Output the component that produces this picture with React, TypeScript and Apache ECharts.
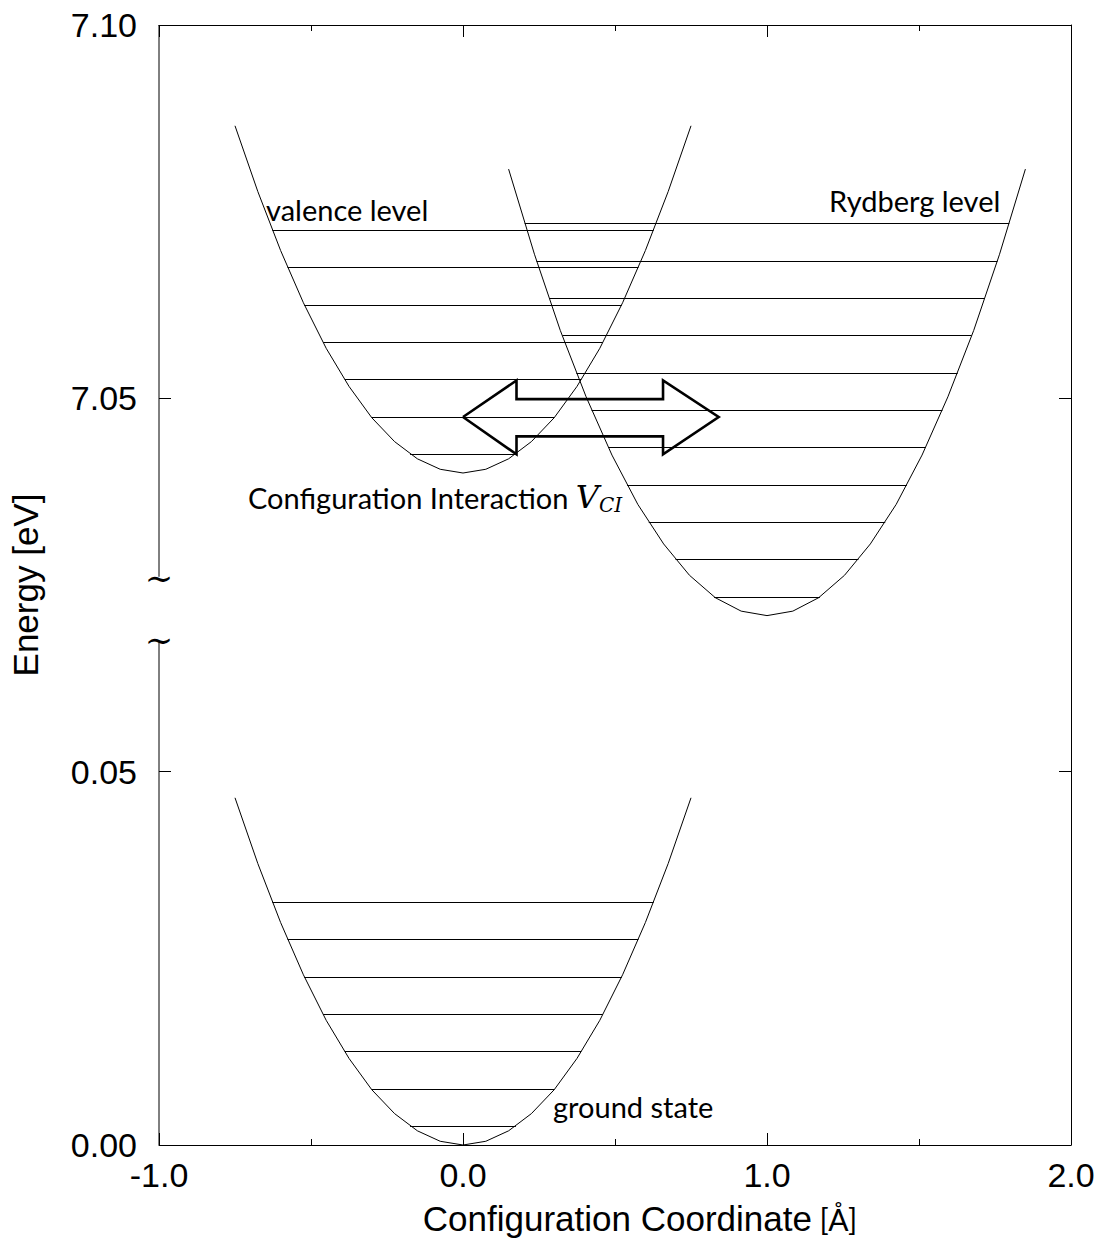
import React, { useEffect, useRef } from "react";
import * as echarts from "echarts";

// ---- tick labels ----
const xTickLabels = ["-1.0", "0.0", "1.0", "2.0"];
const yTickLabels = ["0.00", "0.05", "7.05", "7.10"];

// ---- potential curves (value axis: 0.10 shown as 7.05, 0.15 as 7.10) ----
const groundX = [-0.75, -0.675, -0.6, -0.525, -0.45, -0.375, -0.3, -0.225, -0.15, -0.075, 0, 0.075, 0.15, 0.225, 0.3, 0.375, 0.45, 0.525, 0.6, 0.675, 0.75];
const groundE = [0.0465, 0.0377, 0.0298, 0.0228, 0.0167, 0.0116, 0.0074, 0.0042, 0.0019, 0.0005, 0, 0.0005, 0.0019, 0.0042, 0.0074, 0.0116, 0.0167, 0.0228, 0.0298, 0.0377, 0.0465];

const valenceX = [-0.75, -0.675, -0.6, -0.525, -0.45, -0.375, -0.3, -0.225, -0.15, -0.075, 0, 0.075, 0.15, 0.225, 0.3, 0.375, 0.45, 0.525, 0.6, 0.675, 0.75];
const valenceE = [0.1365, 0.1277, 0.1198, 0.1128, 0.1067, 0.1016, 0.0974, 0.0942, 0.0919, 0.0905, 0.09, 0.0905, 0.0919, 0.0942, 0.0974, 0.1016, 0.1067, 0.1128, 0.1198, 0.1277, 0.1365];

const rydbergX = [0.15, 0.235, 0.32, 0.405, 0.49, 0.575, 0.66, 0.745, 0.83, 0.915, 1.0, 1.085, 1.17, 1.255, 1.34, 1.425, 1.51, 1.595, 1.68, 1.765, 1.85];
const rydbergE = [0.1307, 0.1193, 0.1091, 0.1002, 0.0924, 0.0858, 0.0805, 0.0763, 0.0733, 0.0715, 0.0709, 0.0715, 0.0733, 0.0763, 0.0805, 0.0858, 0.0924, 0.1002, 0.1091, 0.1193, 0.1307];

// ---- vibrational levels ----
const groundLevelE = [0.0025, 0.0075, 0.0125, 0.0175, 0.0225, 0.0275, 0.0325];
const groundLevelL = [-0.174, -0.301, -0.389, -0.46, -0.522, -0.577, -0.627];
const groundLevelR = [0.174, 0.301, 0.389, 0.46, 0.522, 0.577, 0.627];

const valenceLevelE = [0.0925, 0.0975, 0.1025, 0.1075, 0.1125, 0.1175, 0.1225];
const valenceLevelL = [-0.174, -0.301, -0.389, -0.46, -0.522, -0.577, -0.627];
const valenceLevelR = [0.174, 0.301, 0.389, 0.46, 0.522, 0.577, 0.627];

const rydbergLevelE = [0.0734, 0.0784, 0.0834, 0.0884, 0.0934, 0.0984, 0.1034, 0.1084, 0.1134, 0.1184, 0.1234];
const rydbergLevelL = [0.826, 0.699, 0.611, 0.54, 0.478, 0.423, 0.373, 0.327, 0.283, 0.242, 0.203];
const rydbergLevelR = [1.174, 1.301, 1.389, 1.46, 1.522, 1.577, 1.627, 1.673, 1.717, 1.758, 1.797];

// ---- double arrow (configuration interaction) ----
const arrowX = [0, 0.176, 0.176, 0.658, 0.658, 0.841, 0.658, 0.658, 0.176, 0.176, 0];
const arrowE = [0.0975, 0.1024, 0.0999, 0.0999, 0.1024, 0.0975, 0.0925, 0.0949, 0.0949, 0.0925, 0.0975];

// ---- broken left axis segments ----
const axisLowE = [0, 0.0675];
const axisHighE = [0.0761, 0.15];

const zip = (xs: number[], ys: number[]) => xs.map((x, i) => [x, ys[i]]);
const levels = (L: number[], R: number[], E: number[]) =>
  E.map((e, i) => ({ coords: [[L[i], e], [R[i], e]] }));

const thin = { color: "#000", width: 1, opacity: 1 };
const TICK_FONT = "Liberation Sans";
const ANN_FONT = "Lato";
const ANN_SIZE = 29;

export default function App() {
  const ref = useRef<HTMLDivElement>(null);
  useEffect(() => {
    document.body.style.margin = "0";
    if (!ref.current) return;
    const chart = echarts.init(ref.current, undefined, { renderer: "svg" });

    const xBase = {
      type: "value" as const,
      min: -1,
      max: 2,
      interval: 1,
      axisLine: { show: true, onZero: false, lineStyle: { color: "#000", width: 1 } },
      axisTick: { show: true, inside: true, length: 12, lineStyle: { color: "#000", width: 1 } },
      minorTick: { show: true, splitNumber: 2, length: 6, lineStyle: { color: "#000", width: 1 } },
      splitLine: { show: false },
      minorSplitLine: { show: false },
    };
    const yBase = {
      type: "value" as const,
      min: 0,
      max: 0.15,
      interval: 0.05,
      axisTick: { show: true, inside: true, length: 12, lineStyle: { color: "#000", width: 1 } },
      splitLine: { show: false },
    };

    chart.setOption({
      animation: false,
      backgroundColor: "#fff",
      grid: { left: 158, right: 28, top: 25, bottom: 93, containLabel: false },
      xAxis: [
        {
          ...xBase,
          position: "bottom",
          axisLabel: {
            formatter: (v: number) => xTickLabels[Math.round(v + 1)] ?? "",
            fontFamily: TICK_FONT,
            fontSize: 34,
            color: "#000",
            margin: 13,
          },
          name: "{a|Configuration Coordinate}{b| [Å]}",
          nameLocation: "middle",
          nameGap: 56,
          nameTextStyle: {
            padding: [0, 0, 0, 50],
            rich: {
              a: { fontFamily: TICK_FONT, fontSize: 35, color: "#000" },
              b: { fontFamily: ANN_FONT, fontSize: 30, color: "#000" },
            },
          },
        },
        { ...xBase, position: "top", axisLabel: { show: false } },
      ],
      yAxis: [
        {
          ...yBase,
          position: "left",
          axisLine: { show: false, onZero: false },
          axisLabel: {
            formatter: (v: number) => yTickLabels[Math.round(v / 0.05)] ?? "",
            fontFamily: TICK_FONT,
            fontSize: 34,
            color: "#000",
            margin: 22,
          },
          name: "Energy [eV]",
          nameLocation: "middle",
          nameGap: 116,
          nameRotate: 90,
          nameTextStyle: { fontFamily: TICK_FONT, fontSize: 35, color: "#000" },
        },
        {
          ...yBase,
          position: "right",
          axisLine: { show: true, onZero: false, lineStyle: { color: "#000", width: 1 } },
          axisLabel: { show: false },
        },
      ],
      series: [
        {
          type: "line",
          data: [[-1, axisLowE[0]], [-1, axisLowE[1]]],
          symbol: "none",
          lineStyle: thin,
          silent: true,
        },
        {
          type: "line",
          data: [[-1, axisHighE[0]], [-1, axisHighE[1]]],
          symbol: "none",
          lineStyle: thin,
          silent: true,
        },
        { type: "lines", coordinateSystem: "cartesian2d", data: levels(groundLevelL, groundLevelR, groundLevelE), lineStyle: thin, silent: true },
        { type: "lines", coordinateSystem: "cartesian2d", data: levels(valenceLevelL, valenceLevelR, valenceLevelE), lineStyle: thin, silent: true },
        { type: "lines", coordinateSystem: "cartesian2d", data: levels(rydbergLevelL, rydbergLevelR, rydbergLevelE), lineStyle: thin, silent: true },
        { type: "line", data: zip(groundX, groundE), symbol: "none", lineStyle: thin, silent: true },
        { type: "line", data: zip(valenceX, valenceE), symbol: "none", lineStyle: thin, silent: true },
        { type: "line", data: zip(rydbergX, rydbergE), symbol: "none", lineStyle: thin, silent: true },
        {
          type: "line",
          data: zip(arrowX, arrowE),
          symbol: "none",
          lineStyle: { color: "#000", width: 2.6, join: "miter" },
          silent: true,
        },
      ],
      graphic: [
        { type: "text", x: 266, y: 209, style: { text: "valence level", fontFamily: ANN_FONT, fontSize: ANN_SIZE, fill: "#000", align: "left", verticalAlign: "middle" } },
        { type: "text", x: 829, y: 200, style: { text: "Rydberg level", fontFamily: ANN_FONT, fontSize: ANN_SIZE, fill: "#000", align: "left", verticalAlign: "middle" } },
        {
          type: "text",
          x: 248,
          y: 497,
          style: {
            text: "{a|Configuration Interaction }{v|V}{s|CI}",
            align: "left",
            verticalAlign: "middle",
            rich: {
              a: { fontFamily: ANN_FONT, fontSize: ANN_SIZE, fill: "#000", lineHeight: 36 },
              v: { fontFamily: "DejaVu Serif", fontStyle: "italic", fontSize: 32, fill: "#000", lineHeight: 36 },
              s: { fontFamily: "DejaVu Serif", fontStyle: "italic", fontSize: 20, fill: "#000", lineHeight: 22, verticalAlign: "bottom", padding: [12, 0, 0, 0] },
            },
          },
        },
        { type: "text", x: 553, y: 1106, style: { text: "ground state", fontFamily: ANN_FONT, fontSize: ANN_SIZE, fill: "#000", align: "left", verticalAlign: "middle" } },
        { type: "text", x: 159, y: 578, style: { text: "∼", fontFamily: "DejaVu Serif", fontSize: 34, fill: "#000", align: "center", verticalAlign: "middle" } },
        { type: "text", x: 159, y: 640, style: { text: "∼", fontFamily: "DejaVu Serif", fontSize: 34, fill: "#000", align: "center", verticalAlign: "middle" } },
      ],
    });
    return () => chart.dispose();
  }, []);
  return <div ref={ref} style={{ width: 1099, height: 1241 }} />;
}
